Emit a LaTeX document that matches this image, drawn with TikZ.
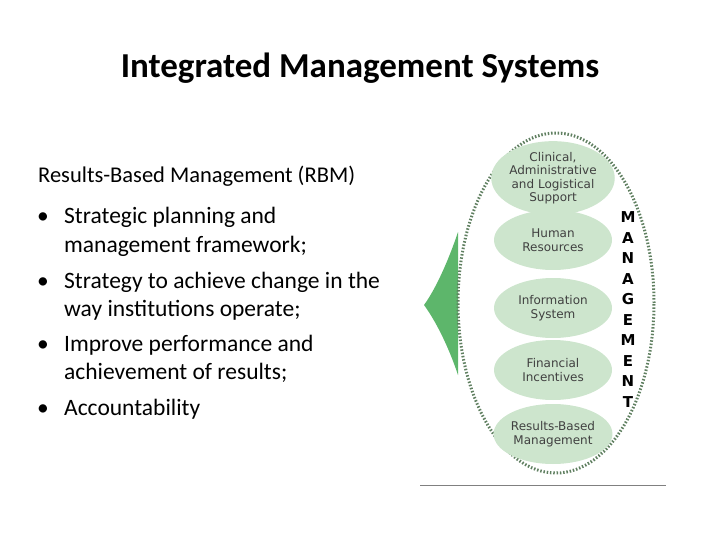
\documentclass[tikz,border=0pt]{standalone}
\usepackage{fontspec}
\setmainfont{Carlito}
\newfontfamily\gothic{DejaVu Sans}
\begin{document}
\begin{tikzpicture}[x=1pt,y=-1pt,
  inner/.style={ellipse,fill=lgreen,minimum width=118pt,minimum height=60pt,inner sep=0pt,align=center,font=\gothic\fontsize{12}{13.5}\selectfont,text=black!75},
  body/.style={anchor=base west,inner sep=0pt,font=\fontsize{23.5}{26}\selectfont}]
\usetikzlibrary{shapes.geometric}
\definecolor{lgreen}{HTML}{CDE5CD}
\definecolor{dgreen}{HTML}{5DB66B}
\definecolor{dotc}{HTML}{5F7F60}
\useasboundingbox (0,0) rectangle (720,540);
\node[font=\bfseries\fontsize{35}{40}\selectfont] (title) at (360,68) {Integrated Management Systems};
\node[body,font=\fontsize{22.5}{26}\selectfont] (h) at (38,183) {Results-Based Management (RBM)};
\foreach \y/\b/\t [count=\i] in {224/•/Strategic planning and,252//management framework;,288/•/Strategy to achieve change in the,316//way institutions operate;,351/•/Improve performance and,379//achievement of results;,415/•/Accountability}{
  \node[body] (b\i) at (37,\y) {\b};
  \node[body] (t\i) at (64,\y) {\t};
}
\fill[dgreen] (458,232) .. controls (448,262) and (435,290) .. (424,305) .. controls (435,320) and (448,345) .. (458,375) -- cycle;
\node[ellipse,draw=dotc,line width=3pt,dash pattern=on 1.5pt off 1.8pt,minimum width=196pt,minimum height=340pt] (outer) at (556,303) {};
\node[inner] (e1) at (553,178) {Clinical,\\Administrative\\and Logistical\\Support};
\node[inner] (e2) at (553,240) {Human\\Resources};
\node[inner] (e3) at (553,308) {Information\\System};
\node[inner] (e4) at (553,370) {Financial\\Incentives};
\node[inner] (e5) at (553,434) {Results-Based\\Management};
\foreach \l [count=\i] in {M,A,N,A,G,E,M,E,N,T}
  \node[font=\gothic\bfseries\fontsize{15}{15}\selectfont] (m\i) at (628,197+20.5*\i) {\l};
\coordinate (la) at (420,485); \coordinate (lb) at (666,485);
\draw[gray,line width=1pt] (la) -- (lb);
\end{tikzpicture}
\end{document}
